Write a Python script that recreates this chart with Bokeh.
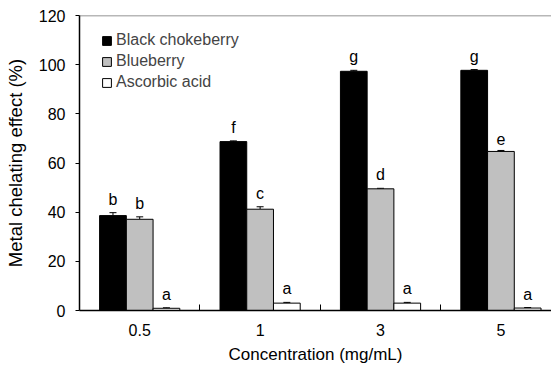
from bokeh.plotting import figure
from bokeh.models import ColumnDataSource, FixedTicker, Range1d, Whisker
from bokeh.core.properties import value
from bokeh.embed import file_html
from bokeh.resources import INLINE

categories = ["0.5", "1", "3", "5"]
series_names = ["Black chokeberry", "Blueberry", "Ascorbic acid"]
black_vals = [38.6, 68.7, 97.3, 97.7]
black_err = [1.2, 0.3, 0.4, 0.3]
blue_vals = [37.1, 41.2, 49.5, 64.7]
blue_err = [1.0, 1.0, 0.2, 0.4]
asc_vals = [0.9, 3.0, 3.0, 1.0]
asc_err = [0.2, 0.3, 0.3, 0.2]
black_letters = ["b", "f", "g", "g"]
blue_letters = ["b", "c", "d", "e"]
asc_letters = ["a", "a", "a", "a"]
y_ticks = [0, 20, 40, 60, 80, 100, 120]

FONT = "Liberation Sans"
bar_w = 0.222
offsets = [-bar_w, 0.0, bar_w]
fills = ["#000000", "#c0c0c0", "#ffffff"]
vals_all = [black_vals, blue_vals, asc_vals]
errs_all = [black_err, blue_err, asc_err]
letters_all = [black_letters, blue_letters, asc_letters]

p = figure(width=551, height=366, output_backend="svg", toolbar_location=None,
           x_range=Range1d(0, 3.92), y_range=Range1d(0, 120),
           min_border_left=79, min_border_right=0, min_border_top=15, min_border_bottom=56)
p.outline_line_color = None
p.grid.visible = False
p.background_fill_color = "white"

centers = [i + 0.5 for i in range(len(categories))]

for k in range(3):
    xs = [c + offsets[k] for c in centers]
    vals = vals_all[k]
    errs = errs_all[k]
    src = ColumnDataSource(dict(x=xs, top=vals, upper=[v + e for v, e in zip(vals, errs)],
                                lower=vals, lab=letters_all[k]))
    p.vbar(x="x", top="top", bottom=0, width=bar_w, source=src,
           fill_color=fills[k], line_color="black", line_width=1,
           legend_label=series_names[k])
    w = Whisker(source=src, base="x", upper="upper", lower="lower",
                line_color="black", line_width=1)
    w.upper_head.size = 7
    w.upper_head.line_color = "black"
    w.lower_head.size = 0
    w.lower_head.line_alpha = 0
    p.add_layout(w)
    p.text(x="x", y="upper", text="lab", source=src, text_font=value(FONT),
           text_font_size="16px", text_align="center", text_baseline="bottom",
           y_offset=-5, text_color="black")

# top border line
p.line(x=[0, 3.92], y=[120, 120], line_color="#707070", line_width=1.5)

# axes
p.xaxis.ticker = FixedTicker(ticks=centers, minor_ticks=[1, 2, 3])
p.xaxis.major_label_overrides = {c: lab for c, lab in zip(centers, categories)}
p.xaxis.major_tick_in = 0
p.xaxis.major_tick_out = 0
p.xaxis.minor_tick_in = 6
p.xaxis.minor_tick_out = 0
p.xaxis.minor_tick_line_color = "black"
p.xaxis.axis_line_color = "black"
p.xaxis.axis_line_width = 1.5
p.xaxis.major_label_standoff = 13
p.xaxis.axis_label = "Concentration (mg/mL)"
p.xaxis.axis_label_standoff = 6

p.yaxis.ticker = FixedTicker(ticks=y_ticks, minor_ticks=[])
p.yaxis.major_tick_in = 0
p.yaxis.major_tick_out = 4
p.yaxis.minor_tick_line_color = None
p.yaxis.axis_line_color = "black"
p.yaxis.axis_line_width = 1.5
p.yaxis.major_label_standoff = 10
p.yaxis.axis_label = "Metal chelating effect (%)"
p.yaxis.axis_label_standoff = 10

for ax in (p.xaxis, p.yaxis):
    ax.major_label_text_font = FONT
    ax.major_label_text_font_size = "16px"
    ax.major_label_text_color = "black"
    ax.axis_label_text_font = FONT
    ax.axis_label_text_font_size = "17px"
    ax.axis_label_text_font_style = "normal"
    ax.axis_label_text_color = "black"
    ax.major_tick_line_color = "black"
p.yaxis.axis_label_text_font_size = "18.5px"

p.legend.location = (22, 219)
p.legend.border_line_color = None
p.legend.background_fill_alpha = 0
p.legend.label_text_font = FONT
p.legend.label_text_font_size = "16px"
p.legend.glyph_width = 11
p.legend.glyph_height = 11
p.legend.label_standoff = 4
p.legend.spacing = 3
p.legend.label_height = 18
p.legend.padding = 0
p.legend.margin = 0

open("out.html", "w").write(file_html(p, INLINE))
